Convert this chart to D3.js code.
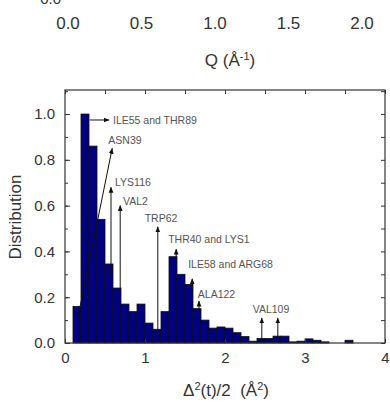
<!DOCTYPE html>
<html>
<head>
<meta charset="utf-8">
<script src="https://cdn.jsdelivr.net/npm/d3@7"></script>
<style>
  html, body { margin: 0; padding: 0; background: #fff; }
  svg text { font-family: Arial, "Liberation Sans", sans-serif; white-space: pre; }
</style>
</head>
<body>
<div id="chart"></div>
<script>
// histogram bins (left edge, width 0.1) and normalised counts
const binLeft = [0.1, 0.2, 0.3, 0.4, 0.5, 0.6, 0.7, 0.8, 0.9, 1.0,
  1.1, 1.2, 1.3, 1.4, 1.5, 1.6, 1.7, 1.8, 1.9, 2.0,
  2.1, 2.2, 2.3, 2.4, 2.5, 2.6, 2.7, 2.8, 2.9, 3.0,
  3.1, 3.2, 3.3, 3.4, 3.5];
const distribution = [0.16, 1.0, 0.86, 0.54, 0.345, 0.24, 0.17, 0.137, 0.17, 0.087,
  0.06, 0.137, 0.377, 0.30, 0.256, 0.15, 0.10, 0.065, 0.07, 0.065,
  0.045, 0.028, 0.008, 0.02, 0.02, 0.03, 0.03, 0.005, 0.008, 0.018,
  0.012, 0.005, 0, 0, 0.012];
const binWidth = 0.1;

const xTicks = [0, 1, 2, 3, 4];
const yTicks = [0, 0.2, 0.4, 0.6, 0.8, 1.0];

// tick labels of the panel above (only its bottom axis is visible)
const qTicks = ["0.0", "0.5", "1.0", "1.5", "2.0"];

// residue arrows: tail (x1,y1) -> head (x2,y2)
const arrows = [
  { x1: 0.31, y1: 0.974, x2: 0.55, y2: 0.974 },
  { x1: 0.16, y1: 0.11, x2: 0.59, y2: 0.85 },
  { x1: 0.575, y1: 0.29, x2: 0.575, y2: 0.68 },
  { x1: 0.69, y1: 0.23, x2: 0.69, y2: 0.60 },
  { x1: 1.16, y1: 0.026, x2: 1.16, y2: 0.507 },
  { x1: 1.39, y1: 0.34, x2: 1.39, y2: 0.41 },
  { x1: 1.59, y1: 0.21, x2: 1.59, y2: 0.28 },
  { x1: 1.675, y1: 0.135, x2: 1.675, y2: 0.183 },
  { x1: 2.46, y1: 0.004, x2: 2.46, y2: 0.109 },
  { x1: 2.66, y1: 0.004, x2: 2.66, y2: 0.109 }
];
const labels = [
  { text: "ILE55 and THR89", lx: 0.60, ly: 0.974, anchor: "start" },
  { text: "ASN39", lx: 0.75, ly: 0.886, anchor: "middle" },
  { text: "LYS116", lx: 0.625, ly: 0.70, anchor: "start" },
  { text: "VAL2", lx: 0.725, ly: 0.62, anchor: "start" },
  { text: "TRP62", lx: 1.20, ly: 0.546, anchor: "middle" },
  { text: "THR40 and LYS1", lx: 1.29, ly: 0.454, anchor: "start" },
  { text: "ILE58 and ARG68", lx: 1.54, ly: 0.345, anchor: "start" },
  { text: "ALA122", lx: 1.66, ly: 0.214, anchor: "start" },
  { text: "VAL109", lx: 2.575, ly: 0.148, anchor: "middle" }
];

const width = 390, height = 410;
const mLeft = 65, mRight = 385, mTop = 90, mBottom = 343;

const svg = d3.select("#chart").append("svg")
  .attr("width", width)
  .attr("height", height);

const defs = svg.append("defs");
defs.append("marker")
  .attr("id", "head")
  .attr("viewBox", "0 0 10 10")
  .attr("refX", 9).attr("refY", 5)
  .attr("markerWidth", 6).attr("markerHeight", 6)
  .attr("markerUnits", "userSpaceOnUse")
  .attr("orient", "auto")
  .append("path")
  .attr("d", "M0,1 L10,5 L0,9 Z")
  .attr("fill", "#111");

const x = d3.scaleLinear().domain([0, 4]).range([mLeft, mRight]);
const y = d3.scaleLinear().domain([0, 1.105]).range([mBottom, mTop]);

// upper panel remnants (its y label is clipped by the crop)
svg.append("text")
  .attr("x", 61).attr("y", 4)
  .attr("text-anchor", "end")
  .attr("font-size", 15).attr("fill", "#333")
  .text("0.0");
const q = d3.scalePoint().domain(qTicks).range([68, 362]);
svg.append("g").selectAll("text")
  .data(qTicks)
  .join("text")
  .attr("x", d => q(d))
  .attr("y", 29)
  .attr("text-anchor", "middle")
  .attr("font-size", 17).attr("fill", "#333")
  .text(d => d);
const qLabel = svg.append("text")
  .attr("x", 230).attr("y", 66)
  .attr("text-anchor", "middle")
  .attr("font-size", 17).attr("fill", "#333");
qLabel.append("tspan").text("Q (Å");
qLabel.append("tspan").attr("dy", -6).attr("font-size", 11).text("-1");
qLabel.append("tspan").attr("dy", 6).text(")");

// bars
svg.append("g").selectAll("rect")
  .data(binLeft)
  .join("rect")
  .attr("x", d => x(d))
  .attr("width", d => x(d + binWidth) - x(d))
  .attr("y", (d, i) => y(distribution[i]))
  .attr("height", (d, i) => y(0) - y(distribution[i]))
  .attr("fill", "#000080")
  .attr("stroke", "#111")
  .attr("stroke-width", 0.8);

// frame
svg.append("rect")
  .attr("x", mLeft).attr("y", mTop)
  .attr("width", mRight - mLeft).attr("height", mBottom - mTop)
  .attr("fill", "none").attr("stroke", "#333").attr("stroke-width", 1.2);

// axes with inward ticks
const tickStyle = g => {
  g.select(".domain").remove();
  g.selectAll("line").attr("stroke", "#333");
  g.selectAll("text").attr("font-size", 15).attr("fill", "#333")
    .attr("font-family", "Arial, 'Liberation Sans', sans-serif");
};
svg.append("g")
  .attr("transform", `translate(0,${mBottom})`)
  .call(d3.axisBottom(x).tickValues(xTicks).tickFormat(d3.format("d"))
    .tickSizeInner(-4).tickSizeOuter(0).tickPadding(9))
  .call(tickStyle);
svg.append("g")
  .attr("transform", `translate(0,${mTop})`)
  .call(d3.axisTop(x).ticks(8).tickSizeInner(-4).tickSizeOuter(0).tickFormat(""))
  .call(tickStyle);
svg.append("g")
  .attr("transform", `translate(${mLeft},0)`)
  .call(d3.axisLeft(y).tickValues(yTicks).tickFormat(d3.format(".1f"))
    .tickSizeInner(-5).tickSizeOuter(0).tickPadding(10))
  .call(tickStyle);
svg.append("g")
  .attr("transform", `translate(${mLeft},0)`)
  .call(d3.axisLeft(y).ticks(11).tickSizeInner(-3).tickSizeOuter(0).tickFormat(""))
  .call(tickStyle);
svg.append("g")
  .attr("transform", `translate(${mRight},0)`)
  .call(d3.axisRight(y).ticks(11).tickSizeInner(-4).tickSizeOuter(0).tickFormat(""))
  .call(tickStyle);

// axis titles
svg.append("text")
  .attr("transform", "translate(21,217) rotate(-90)")
  .attr("text-anchor", "middle")
  .attr("font-size", 17).attr("fill", "#333")
  .text("Distribution");
const xLabel = svg.append("text")
  .attr("x", 226).attr("y", 396)
  .attr("text-anchor", "middle")
  .attr("font-size", 17).attr("fill", "#333");
xLabel.append("tspan").text("Δ");
xLabel.append("tspan").attr("dy", -6).attr("font-size", 11).text("2");
xLabel.append("tspan").attr("dy", 6).text("(t)/2  (Å");
xLabel.append("tspan").attr("dy", -6).attr("font-size", 11).text("2");
xLabel.append("tspan").attr("dy", 6).text(")");

// annotations
svg.append("g").selectAll("line")
  .data(arrows)
  .join("line")
  .attr("x1", d => x(d.x1)).attr("y1", d => y(d.y1))
  .attr("x2", d => x(d.x2)).attr("y2", d => y(d.y2))
  .attr("stroke", "#111").attr("stroke-width", 1)
  .attr("marker-end", "url(#head)");
svg.append("g").selectAll("text")
  .data(labels)
  .join("text")
  .attr("x", d => x(d.lx)).attr("y", d => y(d.ly))
  .attr("dy", "0.35em")
  .attr("text-anchor", d => d.anchor)
  .attr("font-size", 10.5).attr("fill", "#555")
  .text(d => d.text);
</script>
</body>
</html>
